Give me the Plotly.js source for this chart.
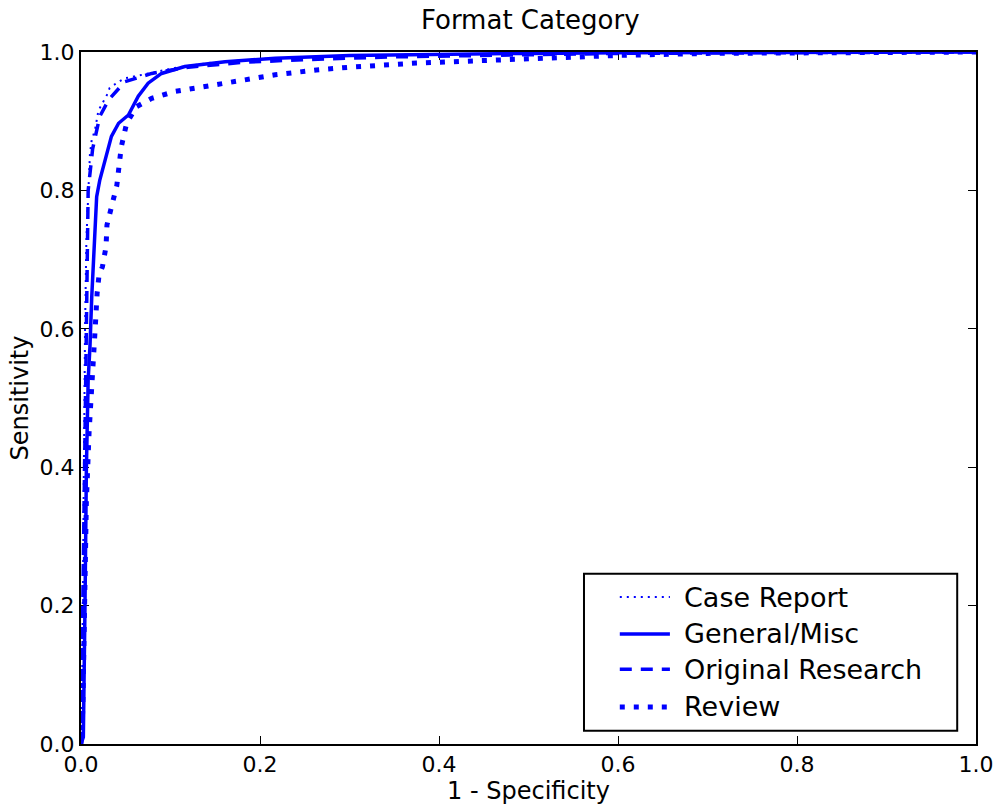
<!DOCTYPE html>
<html>
<head>
<meta charset="utf-8">
<script src="https://cdn.plot.ly/plotly-3.0.1.min.js"></script>
<style>
  html, body { margin: 0; padding: 0; background: #fff; }
  #chart { width: 1003px; height: 809px; }
</style>
</head>
<body>
<div id="chart"></div>
<script>
// ROC curves by publication format category
const seriesNames = ["Case Report", "General/Misc", "Original Research", "Review"];

const caseReportFpr = [0, 0.001, 0.002, 0.003, 0.0045, 0.006, 0.008, 0.010, 0.012, 0.0156, 0.019, 0.021, 0.029, 0.032, 0.042, 0.049, 0.068, 0.105, 0.142, 0.2, 0.3, 0.4, 0.5, 0.6, 0.8, 1.0];
const caseReportTpr = [0, 0.05, 0.2, 0.4, 0.6, 0.728, 0.80, 0.853, 0.873, 0.887, 0.912, 0.919, 0.938, 0.948, 0.957, 0.962, 0.967, 0.977, 0.984, 0.990, 0.995, 0.997, 0.998, 0.999, 1.0, 1.0];

const generalFpr = [0, 0.0026, 0.0045, 0.006, 0.008, 0.010, 0.012, 0.0156, 0.0175, 0.021, 0.025, 0.034, 0.042, 0.053, 0.064, 0.075, 0.090, 0.116, 0.161, 0.217, 0.3, 0.4, 0.5, 0.6, 0.8, 1.0];
const generalTpr = [0, 0.01, 0.204, 0.396, 0.526, 0.574, 0.646, 0.743, 0.791, 0.815, 0.834, 0.878, 0.897, 0.909, 0.936, 0.955, 0.969, 0.979, 0.986, 0.991, 0.995, 0.997, 0.998, 0.999, 1.0, 1.0];

const researchFpr = [0, 0.001, 0.003, 0.005, 0.006, 0.008, 0.013, 0.021, 0.031, 0.049, 0.079, 0.12, 0.18, 0.25, 0.35, 0.5, 0.6, 0.8, 1.0];
const researchTpr = [0, 0.1, 0.3, 0.5, 0.65, 0.80, 0.86, 0.907, 0.931, 0.957, 0.969, 0.978, 0.985, 0.989, 0.993, 0.996, 0.998, 0.999, 1.0];

const reviewFpr = [0, 0.002, 0.004, 0.006, 0.009, 0.0138, 0.0145, 0.016, 0.018, 0.020, 0.024, 0.028, 0.029, 0.033, 0.037, 0.040, 0.045, 0.051, 0.062, 0.079, 0.105, 0.120, 0.161, 0.189, 0.217, 0.263, 0.3, 0.375, 0.45, 0.5, 0.6, 0.7, 0.8, 1.0];
const reviewTpr = [0, 0.05, 0.2, 0.35, 0.45, 0.542, 0.573, 0.604, 0.651, 0.676, 0.690, 0.719, 0.750, 0.771, 0.786, 0.807, 0.863, 0.897, 0.921, 0.933, 0.943, 0.946, 0.955, 0.960, 0.967, 0.974, 0.978, 0.984, 0.988, 0.991, 0.995, 0.998, 0.999, 1.0];

const tickValues = [0, 0.2, 0.4, 0.6, 0.8, 1.0];
const tickLabels = ["0.0", "0.2", "0.4", "0.6", "0.8", "1.0"];

const blue = "#0000ff";
const FONT = "DejaVu Sans, sans-serif";

// line styles per series: fine dotted, solid, dashed, heavy dotted
const styles = [
  { width: 2, dash: "2px,5px" },
  { width: 3.5, dash: "solid" },
  { width: 3.5, dash: "12px,9px" },
  { width: 5, dash: "5px,9px" }
];

const xs = [caseReportFpr, generalFpr, researchFpr, reviewFpr];
const ys = [caseReportTpr, generalTpr, researchTpr, reviewTpr];

const traces = seriesNames.map((name, i) => ({
  type: "scatter",
  mode: "lines",
  name: name,
  x: xs[i],
  y: ys[i],
  line: { color: blue, width: styles[i].width, dash: styles[i].dash },
  showlegend: false
}));

// hand-built legend box (paper coordinates)
const legendBox = { x0: 0.562, x1: 0.979, y0: 0.019, y1: 0.246 };
const legendRows = [0.2124, 0.159, 0.108, 0.0535];
const sampleX0 = 0.602, sampleX1 = 0.658, textX = 0.671;

const shapes = [{
  type: "rect", xref: "paper", yref: "paper",
  x0: legendBox.x0, x1: legendBox.x1, y0: legendBox.y0, y1: legendBox.y1,
  line: { color: "#000", width: 2 }, fillcolor: "#fff", layer: "above"
}];
const annotations = [];
seriesNames.forEach((name, i) => {
  shapes.push({
    type: "line", xref: "paper", yref: "paper",
    x0: sampleX0, x1: sampleX1, y0: legendRows[i], y1: legendRows[i],
    line: { color: blue, width: styles[i].width, dash: styles[i].dash }, layer: "above"
  });
  annotations.push({
    xref: "paper", yref: "paper", x: textX, y: legendRows[i],
    xanchor: "left", yanchor: "middle", showarrow: false,
    text: name, font: { family: FONT, size: 27, color: "#000" }
  });
});

const axisCommon = {
  range: [0, 1],
  tickvals: tickValues,
  ticktext: tickLabels,
  ticks: "inside",
  ticklen: 8,
  tickwidth: 1,
  tickcolor: "#000",
  showline: true,
  linecolor: "#000",
  linewidth: 2,
  mirror: "ticks",
  showgrid: false,
  zeroline: false,
  layer: "below traces",
  tickfont: { family: FONT, size: 22, color: "#000" },
  fixedrange: true
};

const layout = {
  width: 1003,
  height: 809,
  margin: { l: 81, r: 27, t: 52, b: 65 },
  paper_bgcolor: "#fff",
  plot_bgcolor: "#fff",
  title: {
    text: "Format Category",
    font: { family: FONT, size: 26, color: "#000" },
    x: 0.5287, xanchor: "center", y: 0.975, yanchor: "middle"
  },
  xaxis: Object.assign({}, axisCommon, {
    title: { text: "1 - Specificity", font: { family: FONT, size: 24, color: "#000" }, standoff: 2 }
  }),
  yaxis: Object.assign({}, axisCommon, {
    title: { text: "Sensitivity", font: { family: FONT, size: 24, color: "#000" }, standoff: 4 }
  }),
  shapes: shapes,
  annotations: annotations,
  showlegend: false
};

Plotly.newPlot("chart", traces, layout, { displayModeBar: false, staticPlot: true });
</script>
</body>
</html>
